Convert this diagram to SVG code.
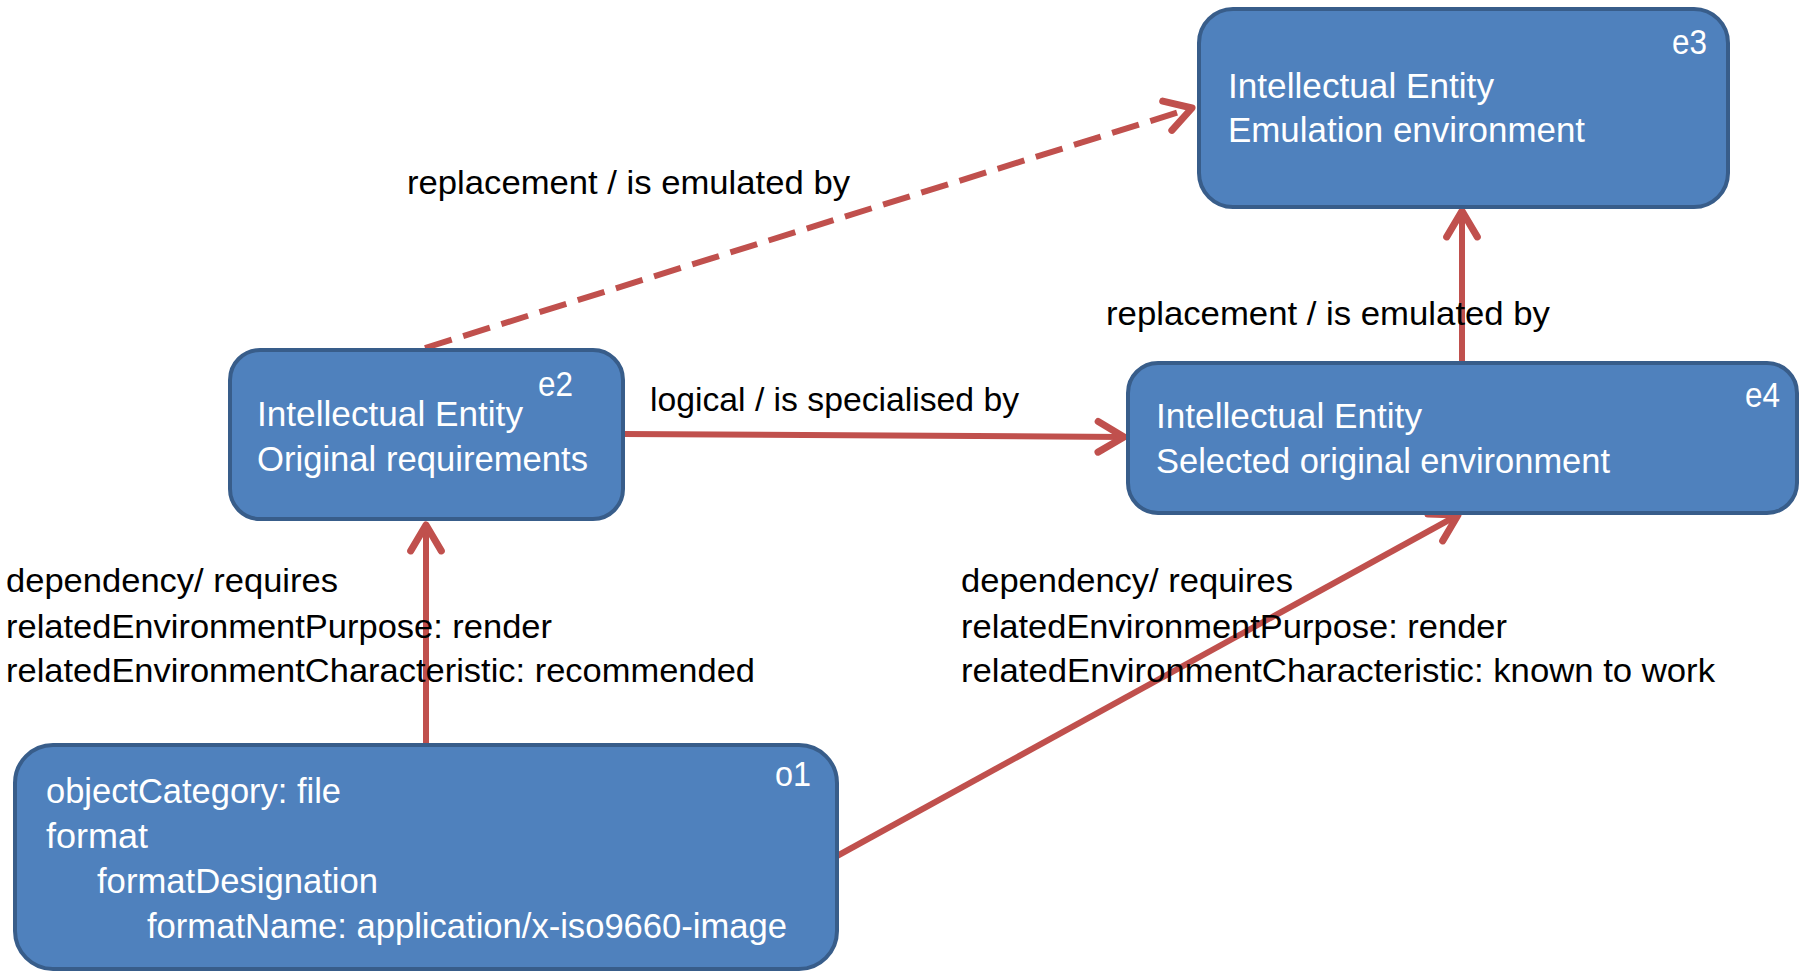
<svg xmlns="http://www.w3.org/2000/svg" width="1802" height="972" viewBox="0 0 1802 972">
<style>
.box{fill:#4F81BD;stroke:#385D8A;stroke-width:4}
.wt{fill:#FFFFFF;font-family:"Liberation Sans",Arial,sans-serif;font-size:35px}
.bt{fill:#000000;font-family:"Liberation Sans",Arial,sans-serif;font-size:33px}
.con{fill:none;stroke:#C0504D;stroke-width:6}
</style>
<defs>
<marker id="arr" markerUnits="userSpaceOnUse" markerWidth="40" markerHeight="40" viewBox="-2 -2 30 34" refX="24" refY="15" orient="auto">
<path d="M2,2 L24,15 L2,28" fill="none" stroke="#C0504D" stroke-width="6" stroke-linecap="round" stroke-linejoin="round"/>
</marker>
</defs>
<rect width="1802" height="972" fill="#FFFFFF"/>
<g id="connectors">
<line class="con" x1="425" y1="348" x2="1192" y2="108" stroke-width="7.5" stroke-dasharray="28 12" marker-end="url(#arr)"/>
<line class="con" x1="623" y1="434" x2="1124" y2="437" marker-end="url(#arr)"/>
<line class="con" x1="1462" y1="363" x2="1462" y2="211" marker-end="url(#arr)"/>
<line class="con" x1="426" y1="745" x2="426" y2="525" marker-end="url(#arr)"/>
<line class="con" x1="837" y1="856" x2="1458" y2="515" marker-end="url(#arr)"/>
</g>
<g id="e3">
<rect class="box" x="1199" y="9" width="529" height="198" rx="34"/>
<text class="wt" x="1672" y="54" textLength="35" lengthAdjust="spacingAndGlyphs">e3</text>
<text class="wt" x="1228" y="98" textLength="266" lengthAdjust="spacingAndGlyphs">Intellectual Entity</text>
<text class="wt" x="1228" y="142" textLength="357" lengthAdjust="spacingAndGlyphs">Emulation environment</text>
</g>
<g id="e2">
<rect class="box" x="230" y="350" width="393" height="169" rx="30"/>
<text class="wt" x="538" y="396" textLength="35" lengthAdjust="spacingAndGlyphs">e2</text>
<text class="wt" x="257" y="426" textLength="266" lengthAdjust="spacingAndGlyphs">Intellectual Entity</text>
<text class="wt" x="257" y="471" textLength="331" lengthAdjust="spacingAndGlyphs">Original requirements</text>
</g>
<g id="e4">
<rect class="box" x="1128" y="363" width="669" height="150" rx="30"/>
<text class="wt" x="1745" y="407" textLength="35" lengthAdjust="spacingAndGlyphs">e4</text>
<text class="wt" x="1156" y="428" textLength="266" lengthAdjust="spacingAndGlyphs">Intellectual Entity</text>
<text class="wt" x="1156" y="473" textLength="454" lengthAdjust="spacingAndGlyphs">Selected original environment</text>
</g>
<g id="o1">
<rect class="box" x="15" y="745" width="822" height="224" rx="38"/>
<text class="wt" x="775" y="786" textLength="36" lengthAdjust="spacingAndGlyphs">o1</text>
<text class="wt" x="46" y="803" textLength="295" lengthAdjust="spacingAndGlyphs">objectCategory: file</text>
<text class="wt" x="46" y="848" textLength="102" lengthAdjust="spacingAndGlyphs">format</text>
<text class="wt" x="97" y="893" textLength="281" lengthAdjust="spacingAndGlyphs">formatDesignation</text>
<text class="wt" x="147" y="938" textLength="640" lengthAdjust="spacingAndGlyphs">formatName: application/x-iso9660-image</text>
</g>
<g id="labels">
<text class="bt" x="407" y="194" textLength="443" lengthAdjust="spacingAndGlyphs">replacement / is emulated by</text>
<text class="bt" x="1106" y="325" textLength="444" lengthAdjust="spacingAndGlyphs">replacement / is emulated by</text>
<text class="bt" x="650" y="411" textLength="369" lengthAdjust="spacingAndGlyphs">logical / is specialised by</text>
<text class="bt" x="6" y="592" textLength="332" lengthAdjust="spacingAndGlyphs">dependency/ requires</text>
<text class="bt" x="6" y="638" textLength="546" lengthAdjust="spacingAndGlyphs">relatedEnvironmentPurpose: render</text>
<text class="bt" x="6" y="682" textLength="749" lengthAdjust="spacingAndGlyphs">relatedEnvironmentCharacteristic: recommended</text>
<text class="bt" x="961" y="592" textLength="332" lengthAdjust="spacingAndGlyphs">dependency/ requires</text>
<text class="bt" x="961" y="638" textLength="546" lengthAdjust="spacingAndGlyphs">relatedEnvironmentPurpose: render</text>
<text class="bt" x="961" y="682" textLength="754" lengthAdjust="spacingAndGlyphs">relatedEnvironmentCharacteristic: known to work</text>
</g>
</svg>
